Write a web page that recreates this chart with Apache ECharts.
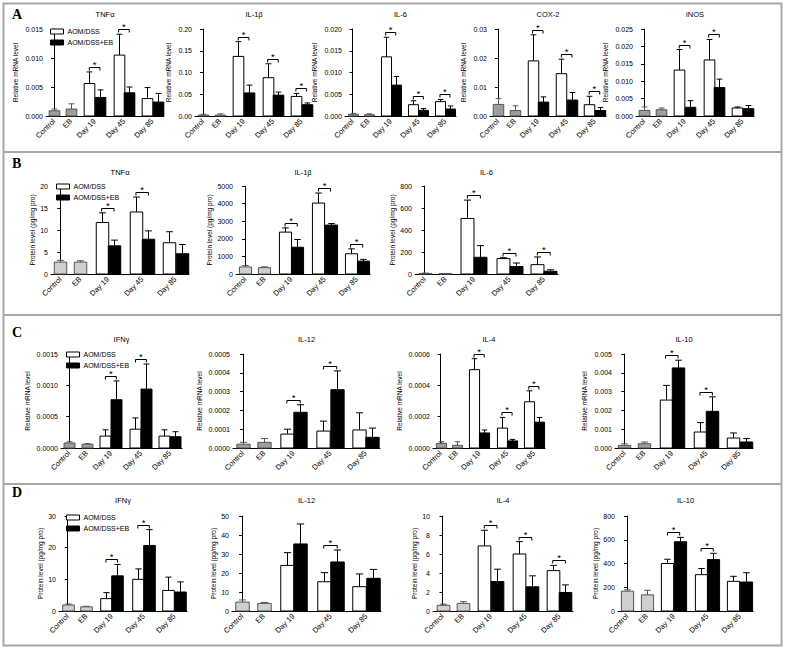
<!DOCTYPE html>
<html><head><meta charset="utf-8">
<script src="https://cdn.jsdelivr.net/npm/echarts@6/dist/echarts.min.js"></script>
<style>html,body{margin:0;padding:0;background:#fff}#c{width:787px;height:651px}</style>
</head><body><div id="c"></div><script>
// ---------- DATA ----------
const categories = ['Control', 'EB', 'Day 19', 'Day 45', 'Day 85'];
const groupNames = ['AOM/DSS', 'AOM/DSS+EB'];
// value order: Control, EB, Day19 AOM/DSS, Day19 AOM/DSS+EB, Day45 AOM/DSS, Day45 AOM/DSS+EB, Day85 AOM/DSS, Day85 AOM/DSS+EB
// sig: significance bracket for Day 19, Day 45, Day 85 ; axis: [max, interval]

// Panel A - relative mRNA level
const aTnfMean = [0.0009, 0.0012, 0.0056, 0.0032, 0.0105, 0.0040, 0.0030, 0.0024];
const aTnfSem  = [0.0003, 0.0009, 0.0020, 0.0013, 0.0036, 0.0010, 0.0019, 0.0015];
const aTnfSig  = [1, 1, 0];
const aTnfAxis = [0.015, 0.005];

const aIl1bMean = [0.002, 0.002, 0.137, 0.053, 0.088, 0.048, 0.045, 0.026];
const aIl1bSem  = [0.002, 0.003, 0.034, 0.018, 0.032, 0.007, 0.007, 0.004];
const aIl1bSig  = [1, 1, 1];
const aIl1bAxis = [0.20, 0.05];

const aIl6Mean = [0.0004, 0.0003, 0.0136, 0.0071, 0.0026, 0.0013, 0.0033, 0.0016];
const aIl6Sem  = [0.0002, 0.0002, 0.0045, 0.0020, 0.0009, 0.0004, 0.0005, 0.0007];
const aIl6Sig  = [1, 1, 1];
const aIl6Axis = [0.020, 0.005];

const aCox2Mean = [0.0040, 0.0019, 0.0190, 0.0048, 0.0146, 0.0055, 0.0039, 0.0019];
const aCox2Sem  = [0.0020, 0.0016, 0.0090, 0.0018, 0.0050, 0.0026, 0.0029, 0.0010];
const aCox2Sig  = [1, 1, 1];
const aCox2Axis = [0.03, 0.01];

const aInosMean = [0.0016, 0.0018, 0.0132, 0.0025, 0.0161, 0.0082, 0.0023, 0.0021];
const aInosSem  = [0.0010, 0.0005, 0.0059, 0.0019, 0.0059, 0.0024, 0.0003, 0.0009];
const aInosSig  = [1, 1, 0];
const aInosAxis = [0.025, 0.005];

// Panel B - protein level (pg/mg pro)
const bTnfMean = [2.7, 2.7, 11.7, 6.4, 14.1, 7.9, 7.1, 4.6];
const bTnfSem  = [0.4, 0.3, 2.2, 1.3, 3.4, 1.9, 2.5, 2.1];
const bTnfSig  = [1, 1, 0];
const bTnfAxis = [20, 5];

const bIl1bMean = [400, 360, 2380, 1520, 4030, 2780, 1150, 730];
const bIl1bSem  = [80, 50, 240, 440, 570, 90, 280, 100];
const bIl1bSig  = [1, 1, 1];
const bIl1bAxis = [5000, 1000];

const bIl6Mean = [5, 3, 505, 152, 140, 68, 85, 25];
const bIl6Sem  = [3, 1, 167, 106, 8, 32, 70, 13];
const bIl6Sig  = [1, 1, 1];
const bIl6Axis = [800, 200];

// Panel C - relative mRNA level
const cIfngMean = [0.00008, 0.00006, 0.00019, 0.00077, 0.00030, 0.00094, 0.00019, 0.00018];
const cIfngSem  = [0.00002, 0.00001, 0.00010, 0.00030, 0.00018, 0.00040, 0.00010, 0.00008];
const cIfngSig  = [1, 1, 0];
const cIfngAxis = [0.0015, 0.0005];

const cIl12Mean = [0.00002, 0.00003, 0.000074, 0.00019, 0.00009, 0.00031, 0.000096, 0.000057];
const cIl12Sem  = [0.00001, 0.00002, 0.000026, 0.00004, 0.000053, 0.00010, 0.000091, 0.000049];
const cIl12Sig  = [1, 1, 0];
const cIl12Axis = [0.0005, 0.0001];

const cIl4Mean = [0.00003, 0.000017, 0.00050, 0.000096, 0.000127, 0.000045, 0.000295, 0.000165];
const cIl4Sem  = [0.00001, 0.000023, 0.00007, 0.000019, 0.000068, 0.00001, 0.00007, 0.00003];
const cIl4Sig  = [1, 1, 1];
const cIl4Axis = [0.0006, 0.0002];

const cIl10Mean = [0.00014, 0.00023, 0.00255, 0.00426, 0.00085, 0.00195, 0.00053, 0.00032];
const cIl10Sem  = [0.00008, 0.00009, 0.00078, 0.00041, 0.00050, 0.00077, 0.00027, 0.00018];
const cIl10Sig  = [1, 1, 0];
const cIl10Axis = [0.005, 0.001];

// Panel D - protein level (pg/mg pro)
const dIfngMean = [1.9, 1.3, 3.9, 11.1, 10.0, 20.7, 6.5, 6.0];
const dIfngSem  = [0.3, 0.2, 1.9, 3.6, 3.3, 5.0, 4.2, 3.2];
const dIfngSig  = [1, 1, 0];
const dIfngAxis = [30, 10];

const dIl12Mean = [4.7, 4.0, 24.0, 35.3, 15.4, 25.8, 12.8, 17.2];
const dIl12Sem  = [1.1, 0.5, 6.7, 10.5, 4.8, 6.3, 6.7, 4.7];
const dIl12Sig  = [0, 1, 0];
const dIl12Axis = [50, 10];

const dIl4Mean = [0.6, 0.8, 6.85, 3.1, 6.0, 2.55, 4.25, 1.95];
const dIl4Sem  = [0.12, 0.18, 1.65, 1.3, 1.3, 1.15, 0.55, 0.8];
const dIl4Sig  = [1, 1, 1];
const dIl4Axis = [10, 2];

const dIl10Mean = [167, 136, 400, 583, 306, 433, 250, 244];
const dIl10Sem  = [11, 39, 36, 37, 52, 53, 42, 78];
const dIl10Sig  = [1, 1, 0];
const dIl10Axis = [800, 200];

const mrnaName = 'Relative mRNA level';
const proteinName = 'Protein level (pg/mg pro)';

const charts = [
  {title: 'TNFα',  mean: aTnfMean,  sem: aTnfSem,  sig: aTnfSig,  axis: aTnfAxis,  yName: mrnaName},
  {title: 'IL-1β', mean: aIl1bMean, sem: aIl1bSem, sig: aIl1bSig, axis: aIl1bAxis, yName: mrnaName},
  {title: 'IL-6',  mean: aIl6Mean,  sem: aIl6Sem,  sig: aIl6Sig,  axis: aIl6Axis,  yName: mrnaName},
  {title: 'COX-2', mean: aCox2Mean, sem: aCox2Sem, sig: aCox2Sig, axis: aCox2Axis, yName: mrnaName},
  {title: 'iNOS',  mean: aInosMean, sem: aInosSem, sig: aInosSig, axis: aInosAxis, yName: mrnaName},
  {title: 'TNFα',  mean: bTnfMean,  sem: bTnfSem,  sig: bTnfSig,  axis: bTnfAxis,  yName: proteinName},
  {title: 'IL-1β', mean: bIl1bMean, sem: bIl1bSem, sig: bIl1bSig, axis: bIl1bAxis, yName: proteinName},
  {title: 'IL-6',  mean: bIl6Mean,  sem: bIl6Sem,  sig: bIl6Sig,  axis: bIl6Axis,  yName: proteinName},
  {title: 'IFNγ',  mean: cIfngMean, sem: cIfngSem, sig: cIfngSig, axis: cIfngAxis, yName: mrnaName},
  {title: 'IL-12', mean: cIl12Mean, sem: cIl12Sem, sig: cIl12Sig, axis: cIl12Axis, yName: mrnaName},
  {title: 'IL-4',  mean: cIl4Mean,  sem: cIl4Sem,  sig: cIl4Sig,  axis: cIl4Axis,  yName: mrnaName},
  {title: 'IL-10', mean: cIl10Mean, sem: cIl10Sem, sig: cIl10Sig, axis: cIl10Axis, yName: mrnaName},
  {title: 'IFNγ',  mean: dIfngMean, sem: dIfngSem, sig: dIfngSig, axis: dIfngAxis, yName: proteinName},
  {title: 'IL-12', mean: dIl12Mean, sem: dIl12Sem, sig: dIl12Sig, axis: dIl12Axis, yName: proteinName},
  {title: 'IL-4',  mean: dIl4Mean,  sem: dIl4Sem,  sig: dIl4Sig,  axis: dIl4Axis,  yName: proteinName},
  {title: 'IL-10', mean: dIl10Mean, sem: dIl10Sem, sig: dIl10Sig, axis: dIl10Axis, yName: proteinName}
];

// ---------- LAYOUT / STYLE ----------
const FONT = '"Liberation Sans", Arial, sans-serif';
const xPos = [0, 1.6, 3.8, 6.55, 9.2];     // group centres in bar-width units
const rows = [
  {letter: 'A', letterY: 14,  titleY: 15,  top: 29,  zero: 116, grey: '#9d9d9d'},
  {letter: 'B', letterY: 163, titleY: 173, top: 186, zero: 274, grey: '#cfcfcf'},
  {letter: 'C', letterY: 332, titleY: 340, top: 354, zero: 448, grey: '#9d9d9d'},
  {letter: 'D', letterY: 492, titleY: 501, top: 516, zero: 611, grey: '#cfcfcf'}
];
const layout = [
  {row: 0, left: 46,  right: 164, legend: [50, 28]},
  {row: 0, left: 195, right: 313},
  {row: 0, left: 345, right: 456},
  {row: 0, left: 490, right: 606},
  {row: 0, left: 636, right: 754},
  {row: 1, left: 51,  right: 189, legend: [56, 183]},
  {row: 1, left: 236, right: 370},
  {row: 1, left: 415, right: 558},
  {row: 2, left: 61,  right: 182, legend: [66, 351]},
  {row: 2, left: 233, right: 380},
  {row: 2, left: 433, right: 545},
  {row: 2, left: 615, right: 753},
  {row: 3, left: 59,  right: 187, legend: [66, 514]},
  {row: 3, left: 232, right: 381},
  {row: 3, left: 433, right: 573},
  {row: 3, left: 618, right: 753}
];

function decimals(v) {
  const s = String(v);
  return s.indexOf('.') < 0 ? 0 : s.length - s.indexOf('.') - 1;
}

function barRenderer(fill, stroke, errColor) {
  return function (params, api) {
    const x = api.value(0), v = api.value(1), e = api.value(2);
    const base = api.coord([x, 0]);
    const top = api.coord([x, v]);
    const et = api.coord([x, v + e]);
    const w = api.size([1, 0])[0];
    const cx = Math.round(base[0]) + 0.5;
    return {type: 'group', children: [
      {type: 'line', shape: {x1: cx, y1: top[1], x2: cx, y2: et[1]}, style: {stroke: errColor, lineWidth: 1}},
      {type: 'line', shape: {x1: cx - w * 0.27, y1: et[1], x2: cx + w * 0.27, y2: et[1]}, style: {stroke: errColor, lineWidth: 1}},
      {type: 'rect', shape: {x: cx - w / 2, y: top[1], width: w, height: base[1] - top[1]},
       style: {fill: fill, stroke: stroke, lineWidth: 1}}
    ]};
  };
}

function sigRenderer(params, api) {
  const x = api.value(0), t = api.value(1);
  const p = api.coord([x, t]);
  const w = api.size([1, 0])[0];
  const y = Math.round(p[1] - 5) + 0.5;
  const xl = p[0] - w / 2, xr = p[0] + w / 2;
  return {type: 'group', children: [
    {type: 'polyline', shape: {points: [[xl, y + 3], [xl, y], [xr, y], [xr, y + 3]]},
     style: {stroke: '#000', fill: null, lineWidth: 1}},
    {type: 'text', style: {text: '*', x: p[0], y: y - 3, align: 'center', verticalAlign: 'middle',
     fontSize: 9.5, fontFamily: FONT, fill: '#000'}}
  ]};
}

const grid = [], xAxis = [], yAxis = [], series = [], legend = [], graphic = [];

// frame
graphic.push({type: 'rect', shape: {x: 3.5, y: 3.5, width: 778, height: 642}, style: {fill: null, stroke: '#a8a8a8', lineWidth: 2}});
[152, 315, 484].forEach(function (y) {
  graphic.push({type: 'line', shape: {x1: 3.5, y1: y, x2: 781.5, y2: y}, style: {stroke: '#a8a8a8', lineWidth: 2}});
});
rows.forEach(function (r) {
  graphic.push({type: 'text', x: 12, y: r.letterY - 7, style: {text: r.letter, fontSize: 14, fontWeight: 'bold',
    fontFamily: '"Liberation Serif", "Times New Roman", serif', fill: '#000'}});
});

charts.forEach(function (c, i) {
  const L = layout[i], R = rows[L.row];
  const dec = decimals(c.axis[1]);
  const labelW = (c.axis[0].toFixed(dec).length - 1) * 3.9 + 2;
  grid.push({left: L.left, top: R.top, width: L.right - L.left, height: R.zero - R.top});
  xAxis.push({
    type: 'value', gridIndex: i, min: -0.75, max: 10.3,
    splitLine: {show: false},
    axisLine: {show: true, onZero: false, lineStyle: {color: '#000', width: 1}},
    axisTick: {show: false},
    axisLabel: {
      customValues: xPos, rotate: 45, fontSize: 7.5, color: '#000', fontFamily: FONT, margin: 4,
      formatter: function (v) {
        let k = 0, d = 1e9;
        xPos.forEach(function (p, j) { if (Math.abs(p - v) < d) { d = Math.abs(p - v); k = j; } });
        return categories[k];
      }
    }
  });
  yAxis.push({
    type: 'value', gridIndex: i, min: 0, max: c.axis[0], interval: c.axis[1],
    name: c.yName, nameLocation: 'middle', nameGap: labelW + 9,
    nameTextStyle: {fontSize: 6.5, color: '#000', fontFamily: FONT},
    splitLine: {show: false},
    axisLine: {show: true, lineStyle: {color: '#000', width: 1}},
    axisTick: {show: true, length: 3, lineStyle: {color: '#000'}},
    axisLabel: {fontSize: 7, color: '#000', fontFamily: FONT, margin: 3,
      formatter: function (v) { return v.toFixed(dec); }}
  });
  graphic.push({type: 'text', x: (L.left + L.right) / 2, y: R.titleY - 5,
    style: {text: c.title, fontSize: 7.5, fontFamily: FONT, fill: '#000', align: 'center'}});

  const m = c.mean, s = c.sem;
  series.push({
    type: 'custom', name: 'single', xAxisIndex: i, yAxisIndex: i, silent: true,
    encode: {x: 0, y: 1}, clip: false,
    data: [[xPos[0], m[0], s[0]], [xPos[1], m[1], s[1]]],
    renderItem: barRenderer(R.grey, '#555', '#555')
  });
  series.push({
    type: 'custom', name: groupNames[0], xAxisIndex: i, yAxisIndex: i, silent: true,
    encode: {x: 0, y: 1}, clip: false,
    data: [0, 1, 2].map(function (g) { return [xPos[g + 2] - 0.5, m[2 + 2 * g], s[2 + 2 * g]]; }),
    renderItem: barRenderer('#fff', '#000', '#000')
  });
  series.push({
    type: 'custom', name: groupNames[1], xAxisIndex: i, yAxisIndex: i, silent: true,
    encode: {x: 0, y: 1}, clip: false,
    data: [0, 1, 2].map(function (g) { return [xPos[g + 2] + 0.5, m[3 + 2 * g], s[3 + 2 * g]]; }),
    renderItem: barRenderer('#000', '#000', '#000')
  });
  const sigData = [];
  c.sig.forEach(function (f, g) {
    if (f) sigData.push([xPos[g + 2], Math.max(m[2 + 2 * g] + s[2 + 2 * g], m[3 + 2 * g] + s[3 + 2 * g])]);
  });
  series.push({
    type: 'custom', name: 'sig', xAxisIndex: i, yAxisIndex: i, silent: true,
    encode: {x: 0, y: 1}, clip: false, data: sigData, renderItem: sigRenderer
  });
  if (L.legend) {
    legend.push({
      left: L.legend[0], top: L.legend[1], orient: 'vertical', selectedMode: false,
      itemWidth: 13, itemHeight: 5, itemGap: 4, icon: 'rect',
      textStyle: {fontSize: 7, color: '#000', fontFamily: FONT, padding: [0, 0, 0, -1]},
      padding: 0,
      data: [
        {name: groupNames[0], itemStyle: {color: '#fff', borderColor: '#000', borderWidth: 1}},
        {name: groupNames[1], itemStyle: {color: '#000', borderColor: '#000', borderWidth: 1}}
      ]
    });
  }
});

const chart = echarts.init(document.getElementById('c'), null, {renderer: 'svg'});
chart.setOption({
  backgroundColor: '#fff', animation: false,
  grid: grid, xAxis: xAxis, yAxis: yAxis, series: series, legend: legend, graphic: graphic
});
</script></body></html>
